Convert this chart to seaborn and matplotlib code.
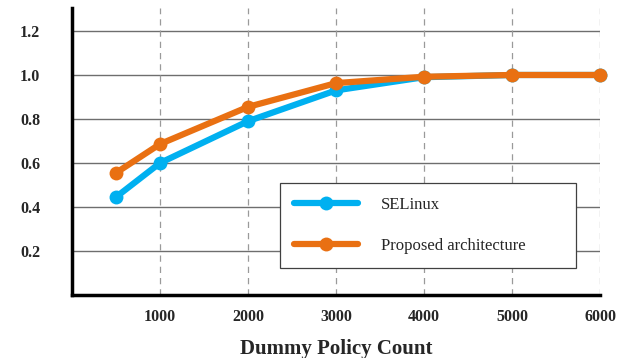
import pandas as pd
import matplotlib
matplotlib.use("Agg")
import matplotlib.pyplot as plt
import seaborn as sns

# values
policy_count = [500, 1000, 2000, 3000, 4000, 5000, 6000]
selinux = [0.445, 0.60, 0.79, 0.93, 0.99, 1.0, 1.0]
proposed = [0.555, 0.686, 0.855, 0.963, 0.992, 1.0, 1.0]
series_names = ["SELinux", "Proposed architecture"]
x_ticks = [1000, 2000, 3000, 4000, 5000, 6000]
y_ticks = [0.2, 0.4, 0.6, 0.8, 1.0, 1.2]

df = pd.DataFrame({
    "count": policy_count * 2,
    "value": selinux + proposed,
    "series": [series_names[0]] * len(policy_count) + [series_names[1]] * len(policy_count),
})

sns.set_style("white")
plt.rcParams["font.family"] = ["Liberation Serif", "DejaVu Serif"]

fig = plt.figure(figsize=(6.33, 3.58), dpi=100)
ax = fig.add_axes([0.1137, 0.176, 0.948 - 0.1137, 0.978 - 0.176])

palette = {"SELinux": "#00B0F0", "Proposed architecture": "#E97012"}
sns.lineplot(data=df, x="count", y="value", hue="series", palette=palette,
             marker="o", markersize=10, markeredgewidth=0, linewidth=4.5,
             ax=ax, zorder=3, clip_on=False)

ax.set_xlim(0, 6000)
ax.set_ylim(0, 1.305)
ax.set_xticks(x_ticks)
ax.set_yticks(y_ticks)
ax.set_xticklabels([str(t) for t in x_ticks], fontweight="bold", fontsize=11.5)
ax.set_yticklabels([f"{t:.1f}" for t in y_ticks], fontweight="bold", fontsize=11.5)
ax.tick_params(axis="y", length=0, pad=23)
ax.tick_params(axis="x", length=0, pad=10)

for y in y_ticks:
    ax.axhline(y, color="#6e6e6e", linewidth=1.0, zorder=1)
for x in x_ticks:
    ax.axvline(x, color="#9a9a9a", linewidth=0.9, linestyle=(0, (5, 4)), zorder=1)

for side in ["top", "right"]:
    ax.spines[side].set_visible(False)
for side in ["left", "bottom"]:
    ax.spines[side].set_color("black")
    ax.spines[side].set_linewidth(2.5)

ax.set_xlabel("Dummy Policy Count", fontweight="bold", fontsize=15, labelpad=10)
ax.set_ylabel("")

leg = ax.legend(loc="lower left", bbox_to_anchor=(0.394, 0.094, 0.561, 0.282),
                mode="expand", frameon=True, fancybox=False, fontsize=12,
                handlelength=3.8, handletextpad=1.4, labelspacing=1.5,
                borderpad=0.85, borderaxespad=0)
leg.get_frame().set_edgecolor("#404040")
leg.get_frame().set_linewidth(0.9)
leg.get_frame().set_alpha(1)
leg.set_zorder(5)

fig.savefig("out.png", dpi=100, facecolor="white")
